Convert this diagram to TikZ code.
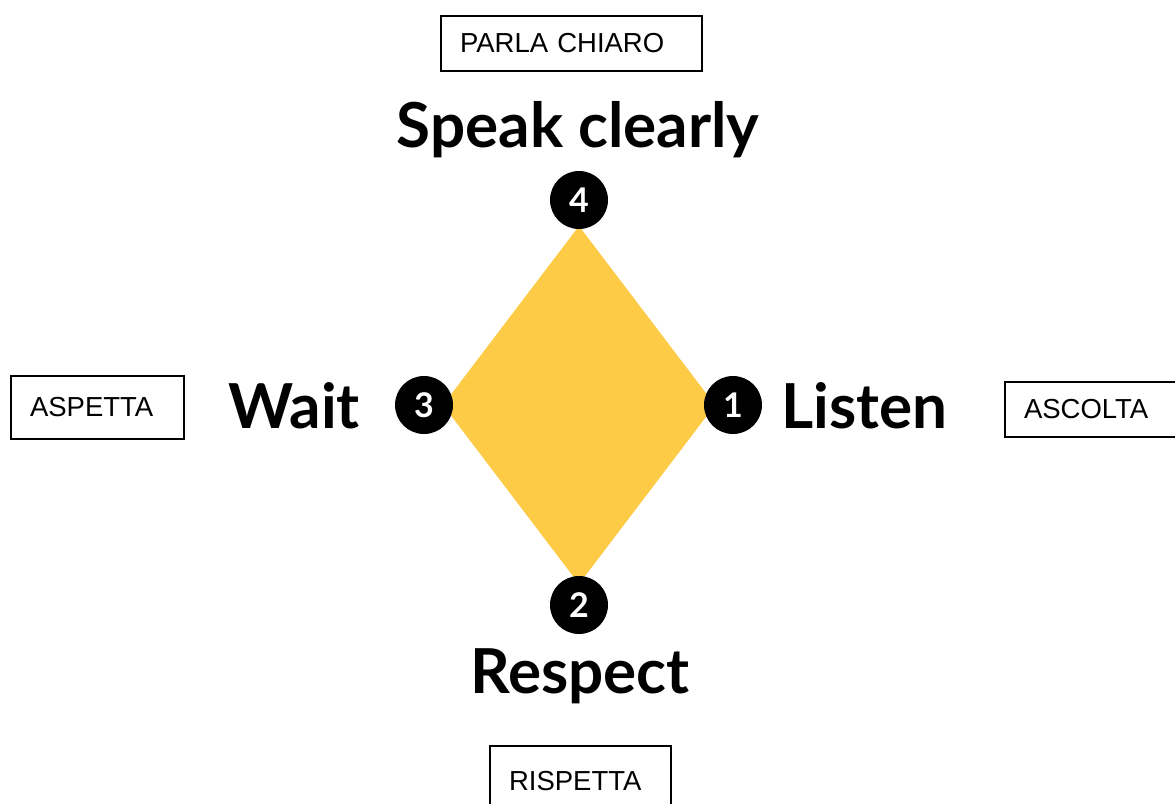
\documentclass[tikz,border=0pt]{standalone}
\usepackage{fontspec}
\setmainfont{Liberation Sans}
\newfontfamily\bigfont{Lato}
\definecolor{dyellow}{HTML}{FDCB45}
\begin{document}
\begin{tikzpicture}[x=1pt,y=-1pt,
  tagbox/.style={draw=black,line width=2pt,fill=white,inner xsep=19pt,inner ysep=0pt,
    align=left,font=\fontsize{27.5}{30}\selectfont,anchor=north west},
  numdot/.style={circle,fill=black,minimum size=58pt,inner sep=0pt,text=white,
    font=\bigfont\bfseries\fontsize{34}{34}\selectfont},
  biglabel/.style={font=\bigfont\bfseries\fontsize{62}{62}\selectfont,inner sep=0pt,anchor=base}]
\useasboundingbox (0,0) rectangle (1175,803);
% diamond
\coordinate (dt) at (579,226);
\coordinate (dl) at (443,405);
\coordinate (dr) at (715,405);
\coordinate (db) at (579,584);
\fill[dyellow] (dt) -- (dr) -- (db) -- (dl) -- cycle;
% numbered dots
\node[numdot] (n4) at (579,200) {4};
\node[numdot] (n3) at (424,405) {3};
\node[numdot] (n1) at (733,405) {1};
\node[numdot] (n2) at (579,605) {2};
% big labels
\node[biglabel] (speak) at (578,147) {Speak clearly};
\node[biglabel,anchor=base east] (wait) at (360,428) {Wait};
\node[biglabel,anchor=base west] (listen) at (781,428) {Listen};
\node[biglabel] (respect) at (580,693) {Respect};
% boxes
\node[tagbox,text width=223pt,minimum height=55pt] (parla) at (440,15) {PARLA CHIARO};
\node[tagbox,text width=135pt,minimum height=63pt] (aspetta) at (10,375) {ASPETTA};
\node[tagbox,text width=160pt,minimum height=55pt] (ascolta) at (1004,381) {ASCOLTA};
\node[tagbox,text width=143pt,minimum height=70pt] (rispetta) at (489,745) {RISPETTA};
\end{tikzpicture}
\end{document}
